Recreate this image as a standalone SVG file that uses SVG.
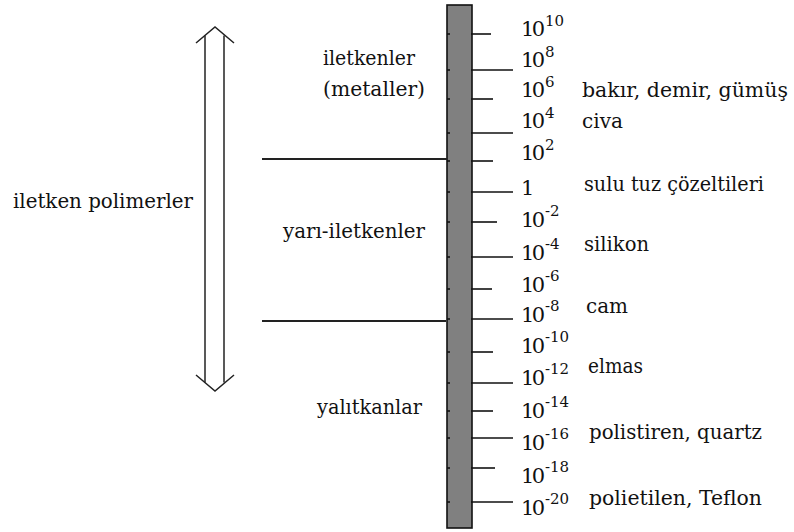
<svg xmlns="http://www.w3.org/2000/svg" width="794" height="532" viewBox="0 0 794 532">
<style>
text{fill:#111;font-family:"DejaVu Serif","Liberation Serif",serif;}
.m{font-size:21px;}
.s{font-size:15px;}
.lbl{font-size:20px;}
.tk{stroke:#111;stroke-width:1.6;}
.ln{stroke:#222;stroke-width:1.8;fill:none;}
.ar{stroke:#222;stroke-width:1.5;fill:none;}
</style>
<rect width="794" height="532" fill="#fff"/>
<g id="scale">
<rect x="447" y="5" width="25" height="523" fill="#808080" stroke="#111" stroke-width="1.6"/>
<g class="tk">
<line x1="471" y1="34" x2="491" y2="34"/>
<line x1="471" y1="70" x2="513" y2="70"/>
<line x1="471" y1="99" x2="493" y2="99"/>
<line x1="471" y1="133" x2="513" y2="133"/>
<line x1="471" y1="161" x2="493" y2="161"/>
<line x1="471" y1="192" x2="513" y2="192"/>
<line x1="471" y1="222" x2="497" y2="222"/>
<line x1="471" y1="257" x2="513" y2="257"/>
<line x1="471" y1="289" x2="492" y2="289"/>
<line x1="471" y1="319" x2="513" y2="319"/>
<line x1="471" y1="352" x2="493" y2="352"/>
<line x1="471" y1="383" x2="513" y2="383"/>
<line x1="471" y1="411" x2="493" y2="411"/>
<line x1="471" y1="438" x2="513" y2="438"/>
<line x1="471" y1="468" x2="495" y2="468"/>
<line x1="471" y1="502" x2="513" y2="502"/>
</g>
<g class="tk" stroke-width="1.2">
<line x1="447" y1="34" x2="450" y2="34"/>
<line x1="447" y1="70" x2="450" y2="70"/>
<line x1="447" y1="99" x2="450" y2="99"/>
<line x1="447" y1="133" x2="450" y2="133"/>
<line x1="447" y1="161" x2="450" y2="161"/>
<line x1="447" y1="192" x2="450" y2="192"/>
<line x1="447" y1="222" x2="450" y2="222"/>
<line x1="447" y1="257" x2="450" y2="257"/>
<line x1="447" y1="289" x2="450" y2="289"/>
<line x1="447" y1="319" x2="450" y2="319"/>
<line x1="447" y1="352" x2="450" y2="352"/>
<line x1="447" y1="383" x2="450" y2="383"/>
<line x1="447" y1="411" x2="450" y2="411"/>
<line x1="447" y1="438" x2="450" y2="438"/>
<line x1="447" y1="468" x2="450" y2="468"/>
<line x1="447" y1="502" x2="450" y2="502"/>
</g>
</g>
<g id="numbers">
<text class="m" x="521" y="36" textLength="24">10</text><text class="s" x="545" y="26">10</text>
<text class="m" x="521" y="67" textLength="24">10</text><text class="s" x="545" y="57">8</text>
<text class="m" x="521" y="97" textLength="24">10</text><text class="s" x="545" y="87">6</text>
<text class="m" x="521" y="128" textLength="24">10</text><text class="s" x="545" y="118">4</text>
<text class="m" x="521" y="160" textLength="24">10</text><text class="s" x="545" y="150">2</text>
<text class="m" x="521" y="195">1</text>
<text class="m" x="521" y="227" textLength="24">10</text><text class="s" x="545" y="216">-2</text>
<text class="m" x="521" y="260" textLength="24">10</text><text class="s" x="545" y="249">-4</text>
<text class="m" x="521" y="292" textLength="24">10</text><text class="s" x="545" y="281">-6</text>
<text class="m" x="521" y="322" textLength="24">10</text><text class="s" x="545" y="311">-8</text>
<text class="m" x="521" y="353" textLength="24">10</text><text class="s" x="545" y="342">-10</text>
<text class="m" x="521" y="385" textLength="24">10</text><text class="s" x="545" y="374">-12</text>
<text class="m" x="521" y="418" textLength="24">10</text><text class="s" x="545" y="407">-14</text>
<text class="m" x="521" y="450" textLength="24">10</text><text class="s" x="545" y="439">-16</text>
<text class="m" x="521" y="483" textLength="24">10</text><text class="s" x="545" y="472">-18</text>
<text class="m" x="521" y="515" textLength="24">10</text><text class="s" x="545" y="504">-20</text>
</g>
<g id="materials">
<text class="lbl" x="582" y="97" textLength="206" lengthAdjust="spacingAndGlyphs">bakır, demir, gümüş</text>
<text class="lbl" x="582" y="128" textLength="41" lengthAdjust="spacingAndGlyphs">civa</text>
<text class="lbl" x="584" y="191" textLength="180" lengthAdjust="spacingAndGlyphs">sulu tuz çözeltileri</text>
<text class="lbl" x="584" y="251" textLength="65" lengthAdjust="spacingAndGlyphs">silikon</text>
<text class="lbl" x="586" y="313" textLength="42" lengthAdjust="spacingAndGlyphs">cam</text>
<text class="lbl" x="588" y="373" textLength="55" lengthAdjust="spacingAndGlyphs">elmas</text>
<text class="lbl" x="589" y="439" textLength="173" lengthAdjust="spacingAndGlyphs">polistiren, quartz</text>
<text class="lbl" x="589" y="505" textLength="173" lengthAdjust="spacingAndGlyphs">polietilen, Teflon</text>
</g>
<g id="regions">
<text class="lbl" x="323" y="65" textLength="92" lengthAdjust="spacingAndGlyphs">iletkenler</text>
<text class="lbl" x="323" y="96" textLength="102" lengthAdjust="spacingAndGlyphs">(metaller)</text>
<text class="lbl" x="283" y="238" textLength="142" lengthAdjust="spacingAndGlyphs">yarı-iletkenler</text>
<text class="lbl" x="317" y="414" textLength="105" lengthAdjust="spacingAndGlyphs">yalıtkanlar</text>
</g>
<g id="polymers">
<text class="lbl" x="13" y="208" textLength="180" lengthAdjust="spacingAndGlyphs">iletken polimerler</text>
</g>
<g id="connectors">
<line class="ln" x1="262" y1="159" x2="447" y2="159"/>
<line class="ln" x1="262" y1="321" x2="446" y2="321"/>
<g id="range-arrow" class="ar">
<polyline points="196,43 215,27 234,43"/>
<polyline points="196,375 215,391 234,375"/>
<line x1="205" y1="35.4" x2="205" y2="382.6"/>
<line x1="224" y1="35.4" x2="224" y2="382.6"/>
</g>
</g>
</svg>
